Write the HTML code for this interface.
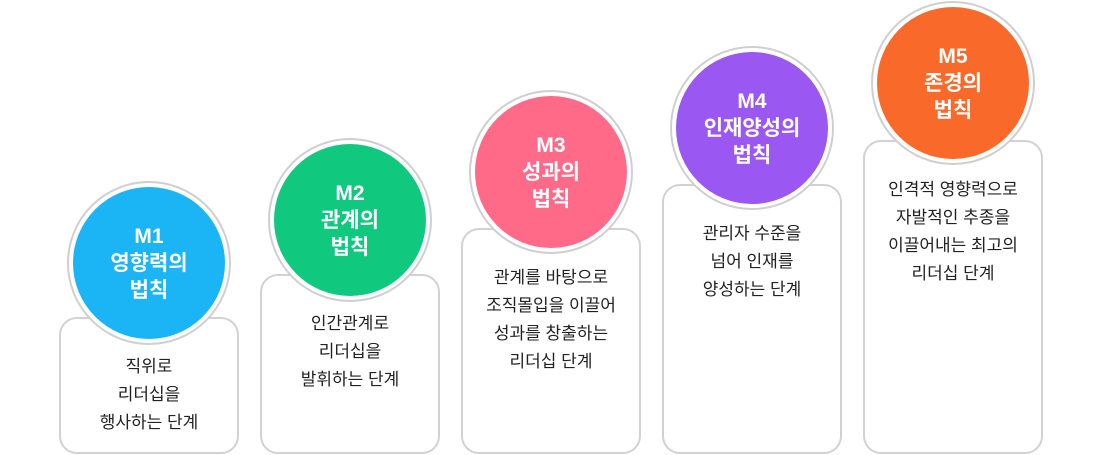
<!DOCTYPE html>
<html><head><meta charset="utf-8"><style>
body{margin:0;width:1100px;height:455px;background:#fff;position:relative;overflow:hidden;font-family:"Liberation Sans","Noto Sans CJK KR",sans-serif}
.box{position:absolute;width:180px;border:2px solid #d2d2d2;border-radius:18px;background:#fff;box-sizing:border-box}
.box p{margin:0;position:absolute;left:0;right:0;text-align:center;font-size:17px;line-height:28px;color:#222}
.c{position:absolute;width:164px;height:164px;border-radius:50%;background:#fff;box-sizing:border-box;border:2px solid #cfcfcf}
.c div{position:absolute;left:4px;top:4px;width:152px;height:152px;border-radius:50%;display:flex;align-items:center;justify-content:center;text-align:center;color:#fff;font-weight:bold;font-size:21px;line-height:27px}
</style></head><body>
<div class="box" style="left:59px;top:317px;height:137px"><p style="top:34px">직위로<br>리더십을<br>행사하는 단계</p></div>
<div class="box" style="left:260px;top:274px;height:180px"><p style="top:34px">인간관계로<br>리더십을<br>발휘하는 단계</p></div>
<div class="box" style="left:461px;top:228px;height:226px"><p style="top:34px">관계를 바탕으로<br>조직몰입을 이끌어<br>성과를 창출하는<br>리더십 단계</p></div>
<div class="box" style="left:662px;top:184px;height:270px"><p style="top:34px">관리자 수준을<br>넘어 인재를<br>양성하는 단계</p></div>
<div class="box" style="left:863px;top:140px;height:314px"><p style="top:34px">인격적 영향력으로<br>자발적인 추종을<br>이끌어내는 최고의<br>리더십 단계</p></div>
<div class="c" style="left:67px;top:181px"><div style="background:#1bb5f5">M1<br>영향력의<br>법칙</div></div>
<div class="c" style="left:268px;top:138px"><div style="background:#10c97f">M2<br>관계의<br>법칙</div></div>
<div class="c" style="left:469px;top:90px"><div style="background:#ff6a88">M3<br>성과의<br>법칙</div></div>
<div class="c" style="left:670px;top:46px"><div style="background:#9b57f2">M4<br>인재양성의<br>법칙</div></div>
<div class="c" style="left:871px;top:1px"><div style="background:#f96a2a">M5<br>존경의<br>법칙</div></div>
</body></html>
